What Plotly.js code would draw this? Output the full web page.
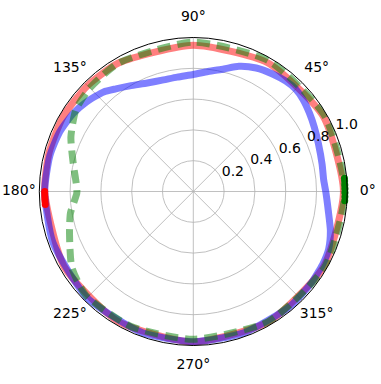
<!DOCTYPE html>
<html>
<head>
<meta charset="utf-8">
<script src="https://cdn.plot.ly/plotly-3.0.1.min.js"></script>
<style>
  body { margin: 0; padding: 0; background: white; }
  #chart { width: 381px; height: 384px; }
</style>
</head>
<body>
<div id="chart"></div>
<script>
// curves (angle in degrees, normalized radius)
var blueTheta = [0, 5, 12, 21, 28, 34, 40, 45, 50, 56, 63, 70, 76, 83, 90, 98, 105, 113, 121, 127, 132, 140, 147, 156, 166, 180, 200, 225, 250, 270, 290, 310, 322, 328, 331, 337, 344, 352, 360];
var blueR     = [0.86, 0.85, 0.855, 0.87, 0.89, 0.91, 0.93, 0.94, 0.935, 0.92, 0.90, 0.865, 0.82, 0.785, 0.76, 0.75, 0.75, 0.765, 0.80, 0.835, 0.87, 0.905, 0.93, 0.95, 0.96, 0.965, 0.97, 0.975, 0.975, 0.975, 0.975, 0.975, 0.97, 0.965, 0.964, 0.955, 0.926, 0.885, 0.86];

var redTheta = [0, 30, 60, 90, 120, 135, 150, 165, 180, 210, 240, 270, 300, 330, 360];
var redR     = [0.975, 0.975, 0.965, 0.95, 0.965, 0.972, 0.975, 0.97, 0.965, 0.97, 0.975, 0.977, 0.977, 0.977, 0.975];

var greenTheta = [0, 30, 60, 90, 120, 135, 145, 156, 167, 178, 181, 190, 199, 212, 224, 245, 270, 300, 330, 360];
var greenR     = [0.985, 0.985, 0.98, 0.97, 0.965, 0.95, 0.93, 0.87, 0.80, 0.757, 0.757, 0.81, 0.85, 0.93, 0.97, 0.965, 0.96, 0.975, 0.985, 0.985];

// marker clusters at the ends
var redMarkTheta = [180, 181, 182, 183, 184, 185];
var redMarkR     = [0.965, 0.965, 0.965, 0.965, 0.965, 0.965];
var greenMarkTheta = [-3.5, -2, -0.5, 1, 2.5, 4, 5];
var greenMarkR     = [0.985, 0.985, 0.985, 0.985, 0.985, 0.985, 0.985];

// tick labels
var angTicks = [0, 45, 90, 135, 180, 225, 270, 315];
var angLabels = angTicks.map(function(a) { return a + '°'; });
var rTicks = [0.2, 0.4, 0.6, 0.8, 1.0];
var rLabels = ['0.2', '0.4', '0.6', '0.8', '1.0'];

// matplotlib style label placement: theta labels centred on a ring just outside
// (drawn in a bigger, invisible polar that shares the centre and scale),
// r labels sitting up-right of the 22.5 deg spoke
var thetaLabelR = 1.133;
var rLabelAngle = 22.5;

var labelFont = { family: 'DejaVu Sans', size: 14, color: 'black' };

var data = [
    {
        type: 'scatterpolar', mode: 'lines',
        theta: redTheta, r: redR,
        line: { color: 'rgba(255,0,0,0.5)', width: 7, shape: 'spline', smoothing: 0.6 }
    },
    {
        type: 'scatterpolar', mode: 'lines',
        theta: blueTheta, r: blueR,
        line: { color: 'rgba(0,0,255,0.5)', width: 7, shape: 'spline', smoothing: 0.6 }
    },
    {
        type: 'scatterpolar', mode: 'lines',
        theta: greenTheta, r: greenR,
        line: { color: 'rgba(0,128,0,0.5)', width: 7, shape: 'spline', smoothing: 0.6, dash: '13px,7px' }
    },
    {
        type: 'scatterpolar', mode: 'markers',
        theta: redMarkTheta, r: redMarkR,
        marker: { color: 'red', size: 7 }
    },
    {
        type: 'scatterpolar', mode: 'markers',
        theta: greenMarkTheta, r: greenMarkR,
        marker: { color: 'green', size: 7 }
    },
    {
        type: 'scatterpolar', mode: 'text',
        theta: rTicks.map(function() { return rLabelAngle; }), r: rTicks,
        text: rLabels, textposition: 'top right',
        textfont: labelFont, cliponaxis: false
    },
    {
        type: 'scatterpolar', mode: 'text', subplot: 'polar2',
        theta: angTicks, r: angTicks.map(function() { return thetaLabelR; }),
        text: angLabels, textposition: 'middle center',
        textfont: labelFont, cliponaxis: false
    }
];

var hiddenAxis = { showgrid: false, showline: false, showticklabels: false, ticks: '' };

var layout = {
    width: 381,
    height: 384,
    showlegend: false,
    paper_bgcolor: 'white',
    margin: { l: 0, r: 0, t: 0, b: 0 },
    font: labelFont,
    polar: {
        domain: { x: [0.10315, 0.91155], y: [0.10026, 0.90234] },
        bgcolor: 'white',
        angularaxis: {
            rotation: 0,
            direction: 'counterclockwise',
            tickmode: 'array',
            tickvals: angTicks,
            showticklabels: false,
            ticks: '',
            showline: true,
            linecolor: 'black',
            linewidth: 1,
            gridcolor: '#b0b0b0',
            gridwidth: 0.8
        },
        radialaxis: {
            range: [0, 1.0],
            tickmode: 'array',
            tickvals: rTicks,
            showticklabels: false,
            ticks: '',
            showline: false,
            gridcolor: '#b0b0b0',
            gridwidth: 0.8
        }
    },
    polar2: {
        domain: { x: [0.01654, 0.99816], y: [0.01432, 0.98828] },
        bgcolor: 'rgba(0,0,0,0)',
        angularaxis: Object.assign({ rotation: 0, direction: 'counterclockwise' }, hiddenAxis),
        radialaxis: Object.assign({ range: [0, 1.2143] }, hiddenAxis)
    }
};

Plotly.newPlot('chart', data, layout, { staticPlot: true });
</script>
</body>
</html>
